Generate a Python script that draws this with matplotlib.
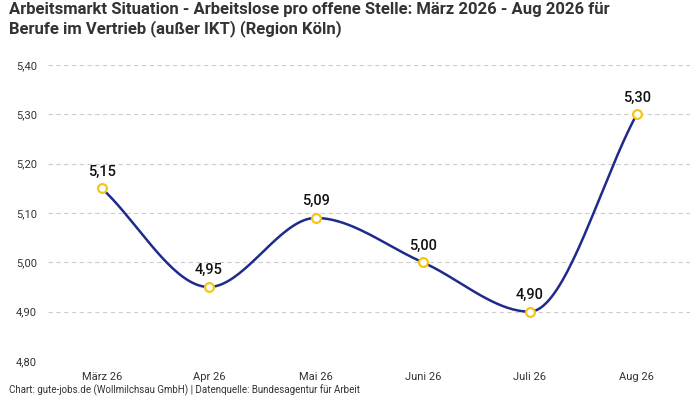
import matplotlib
matplotlib.use("Agg")
import matplotlib.pyplot as plt
import numpy as np

months = ["März 26", "Apr 26", "Mai 26", "Juni 26", "Juli 26", "Aug 26"]
values = [5.15, 4.95, 5.09, 5.00, 4.90, 5.30]
yticks = [4.80, 4.90, 5.00, 5.10, 5.20, 5.30, 5.40]

plt.rcParams['font.family'] = ['Roboto', 'DejaVu Sans']

def monotone(x, y, n=40):
    x = np.asarray(x, float); y = np.asarray(y, float)
    h = np.diff(x); d = np.diff(y) / h
    m = np.zeros_like(y)
    m[0] = d[0]; m[-1] = d[-1]
    for i in range(1, len(y) - 1):
        if d[i-1] * d[i] <= 0:
            m[i] = 0
        else:
            w1 = 2*h[i] + h[i-1]; w2 = h[i] + 2*h[i-1]
            m[i] = (w1 + w2) / (w1/d[i-1] + w2/d[i])
    xs, ys = [], []
    for i in range(len(h)):
        t = np.linspace(0, 1, n)
        h00 = 2*t**3 - 3*t**2 + 1; h10 = t**3 - 2*t**2 + t
        h01 = -2*t**3 + 3*t**2; h11 = t**3 - t**2
        xs.append(x[i] + t*h[i])
        ys.append(h00*y[i] + h10*h[i]*m[i] + h01*y[i+1] + h11*h[i]*m[i+1])
    return np.concatenate(xs), np.concatenate(ys)

fig = plt.figure(figsize=(7, 4), dpi=100)
ax = fig.add_axes([0.069, 0.0975, 0.917, 0.74])
x = np.arange(len(months))
sx, sy = monotone(x, values)
ax.plot(sx, sy, color="#1f2a8a", lw=1.8, zorder=2)
ax.scatter(x, values, s=40, facecolor="white", edgecolor="#f5c518", linewidth=1.6, zorder=3)
for xi, v in zip(x, values):
    ax.annotate(f"{v:.2f}".replace(".", ","), (xi, v), xytext=(0, 7), textcoords="offset points",
                ha="center", va="bottom", fontsize=10.5, fontweight="medium", color="#111111")

ax.set_xlim(-0.5, len(months) - 0.5)
ax.set_ylim(4.80, 5.40)
ax.set_yticks(yticks)
ax.set_yticklabels([f"{t:.2f}".replace(".", ",") for t in yticks], fontsize=8, color="#333333")
ax.set_xticks(x)
ax.set_xticklabels(months, fontsize=8, color="#333333")
ax.tick_params(length=0, pad=8)
ax.grid(axis="y", linestyle=(0, (4, 3)), color="#cccccc", lw=0.8)
for s in ax.spines.values():
    s.set_visible(False)

fig.text(0.013, 0.995, "Arbeitsmarkt Situation - Arbeitslose pro offene Stelle: März 2026 - Aug 2026 für\nBerufe im Vertrieb (außer IKT) (Region Köln)",
         ha="left", va="top", fontsize=12, fontweight="bold", color="#333333", linespacing=1.2)
fig.text(0.013, 0.01, "Chart: gute-jobs.de (Wollmilchsau GmbH) | Datenquelle: Bundesagentur für Arbeit",
         ha="left", va="bottom", fontsize=7, color="#333333")
fig.savefig("out.png", dpi=100)
